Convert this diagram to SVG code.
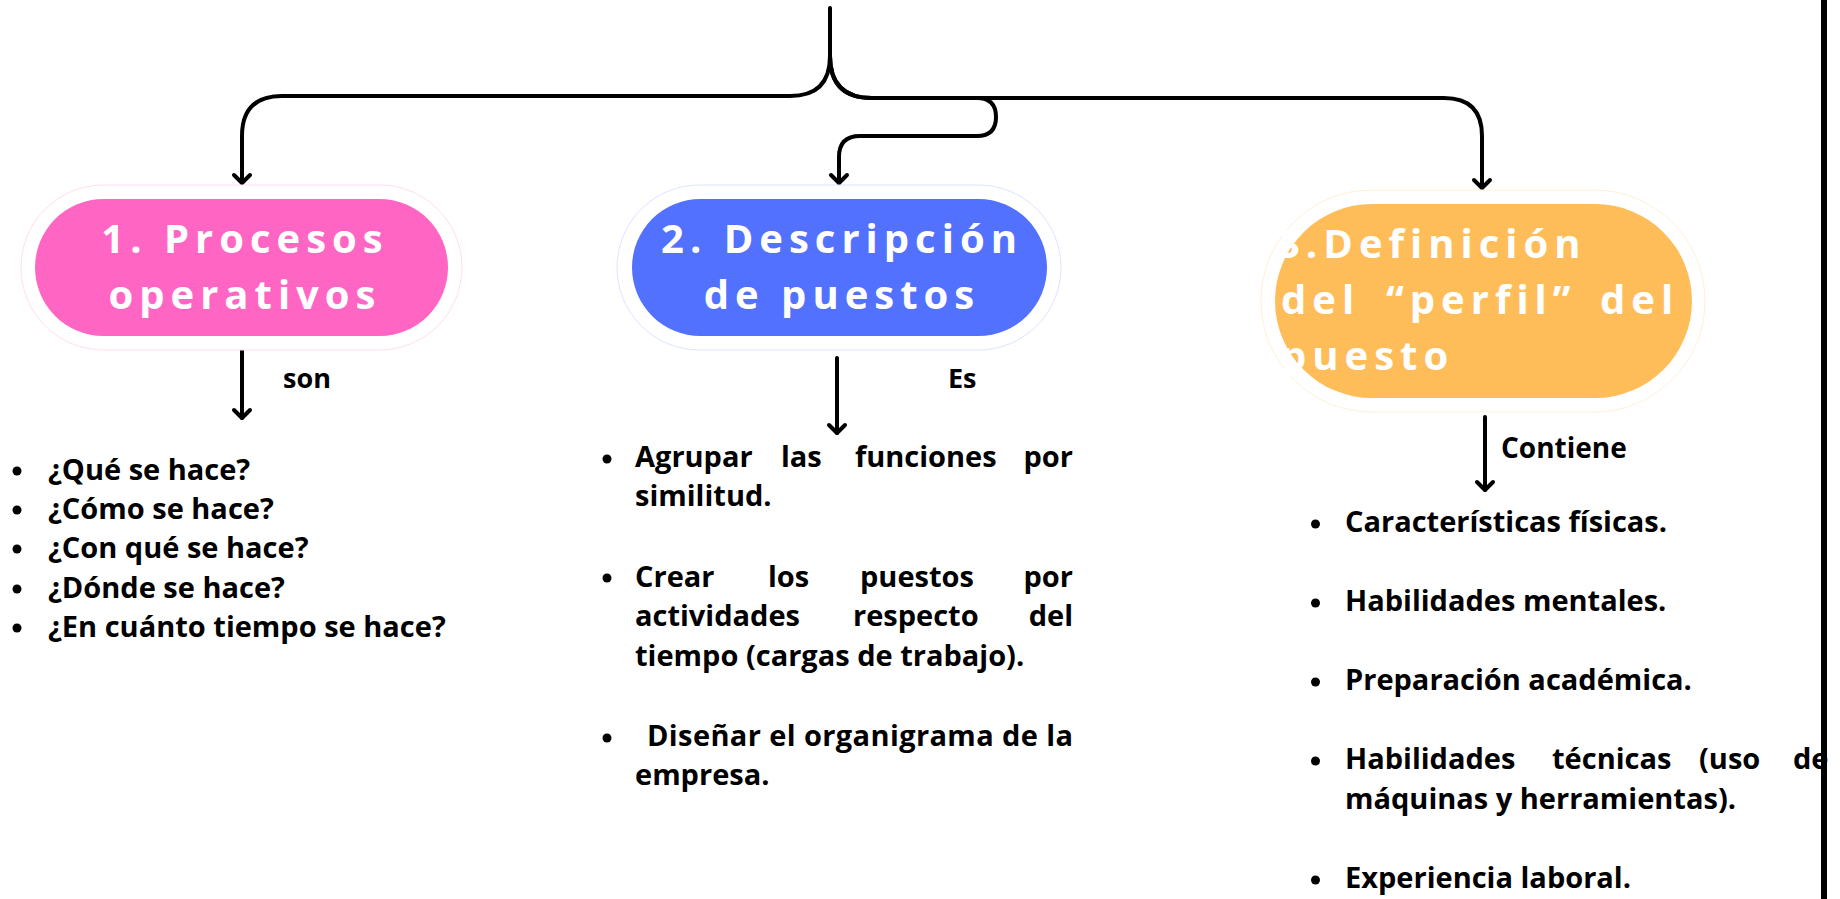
<svg xmlns="http://www.w3.org/2000/svg" width="1840" height="899" viewBox="0 0 1840 899">
<defs>
<marker id="chev" markerUnits="userSpaceOnUse" markerWidth="24" markerHeight="24" viewBox="-12 -12 24 24" refX="0" refY="0" orient="auto">
<path d="M-8,-8 L0,0 L-8,8" fill="none" stroke="#000" stroke-width="4" stroke-linecap="round" stroke-linejoin="round"/>
</marker>
</defs>
<style>
.conn{fill:none;stroke:#000;stroke-width:4;stroke-linecap:round;stroke-linejoin:round}
.arr{marker-end:url(#chev)}
.head{font-family:"Open Sans","DejaVu Sans",sans-serif;font-weight:700;font-size:40px;fill:#fff;letter-spacing:6px}
.body{font-family:"Open Sans","DejaVu Sans",sans-serif;font-weight:700;font-size:29px;fill:#000}
.lbl{font-family:"Open Sans","DejaVu Sans",sans-serif;font-weight:700;font-size:27px;fill:#000}
.ring{fill:#fff;stroke-width:1}
</style>
<rect x="0" y="0" width="1840" height="899" fill="#fff"/>

<g id="connectors">
<path class="conn arr" d="M830,8 V56 Q830,96 790,96 H282 Q242,96 242,136 V183"/>
<path class="conn arr" d="M830,56 Q830,98 872,98 H1444 Q1482,98 1482,136 V188"/>
<path class="conn arr" d="M830,56 Q830,98 872,98 H977 Q996,98 996,117 Q996,136 977,136 H860 Q839,136 839,157 V183"/>
<path class="conn arr" d="M242,345 V418"/>
<path class="conn arr" d="M837,358 V433"/>
<path class="conn arr" d="M1485,417 V490"/>
</g>

<g id="node-procesos">
<rect class="ring" x="21" y="185" width="441" height="165" rx="82.5" stroke="#FFDDF1"/>
<rect x="35" y="199" width="413" height="137" rx="68.5" fill="#FF66C4"/>
<text class="head" text-anchor="middle"><tspan x="245" y="253">1. Procesos</tspan><tspan x="245" y="309">operativos</tspan></text>
</g>

<g id="node-descripcion">
<rect class="ring" x="617" y="185" width="444" height="165" rx="82.5" stroke="#DCE3FF"/>
<rect x="632" y="199" width="415" height="137" rx="68.5" fill="#5271FF"/>
<text class="head" text-anchor="middle"><tspan x="842" y="253">2. Descripción</tspan><tspan x="842" y="309">de puestos</tspan></text>
</g>

<g id="node-definicion">
<rect class="ring" x="1261" y="190" width="444" height="222" rx="111" stroke="#FFF0DA"/>
<rect x="1275" y="204" width="417" height="194" rx="97" fill="#FFBD59"/>
<text class="head"><tspan x="1277" y="258">3.Definición</tspan></text>
<text class="head"><tspan x="1281" y="314">del</tspan><tspan x="1386" y="314">“perfil”</tspan><tspan x="1600" y="314">del</tspan></text>
<text class="head"><tspan x="1281" y="370">puesto</tspan></text>
</g>

<g id="label-son"><text class="lbl" x="283" y="388">son</text></g>
<g id="label-es"><text class="lbl" x="948" y="388">Es</text></g>
<g id="label-contiene"><text class="lbl" x="1501" y="458" style="font-size:28px">Contiene</text></g>

<g id="list-procesos">
<circle cx="17" cy="471" r="4.5"/><circle cx="17" cy="510" r="4.5"/><circle cx="17" cy="549" r="4.5"/><circle cx="17" cy="589" r="4.5"/><circle cx="17" cy="628" r="4.5"/>
<text class="body" x="48" y="480">¿Qué se hace?</text>
<text class="body" x="48" y="519">¿Cómo se hace?</text>
<text class="body" x="48" y="558">¿Con qué se hace?</text>
<text class="body" x="48" y="598">¿Dónde se hace?</text>
<text class="body" x="48" y="637">¿En cuánto tiempo se hace?</text>
</g>

<g id="list-descripcion">
<circle cx="607" cy="459" r="4.5"/><circle cx="607" cy="578" r="4.5"/><circle cx="607" cy="738" r="4.5"/>
<text class="body" y="467"><tspan x="635">Agrupar</tspan><tspan x="781">las</tspan><tspan x="855">funciones</tspan></text>
<text class="body" x="1073" y="467" text-anchor="end">por</text>
<text class="body" x="635" y="506">similitud.</text>
<text class="body" y="587"><tspan x="635">Crear</tspan><tspan x="768">los</tspan><tspan x="860">puestos</tspan></text>
<text class="body" x="1073" y="587" text-anchor="end">por</text>
<text class="body" y="626"><tspan x="635">actividades</tspan><tspan x="853">respecto</tspan></text>
<text class="body" x="1073" y="626" text-anchor="end">del</text>
<text class="body" x="635" y="666">tiempo (cargas de trabajo).</text>
<text class="body" x="647" y="746" textLength="426" lengthAdjust="spacing">Diseñar el organigrama de la</text>
<text class="body" x="635" y="785">empresa.</text>
</g>

<g id="list-perfil">
<circle cx="1315.5" cy="524" r="4.5"/><circle cx="1315.5" cy="603" r="4.5"/><circle cx="1315.5" cy="682" r="4.5"/><circle cx="1315.5" cy="761" r="4.5"/><circle cx="1315.5" cy="880" r="4.5"/>
<text class="body" x="1345" y="532">Características físicas.</text>
<text class="body" x="1345" y="611">Habilidades mentales.</text>
<text class="body" x="1345" y="690">Preparación académica.</text>
<text class="body" y="769"><tspan x="1345">Habilidades</tspan><tspan x="1552">técnicas</tspan><tspan x="1699">(uso</tspan><tspan x="1793">de</tspan></text>
<text class="body" x="1345" y="809">máquinas y herramientas).</text>
<text class="body" x="1345" y="888">Experiencia laboral.</text>
</g>

<rect id="edge-bar" x="1821" y="0" width="6" height="899" fill="#000"/>
</svg>
